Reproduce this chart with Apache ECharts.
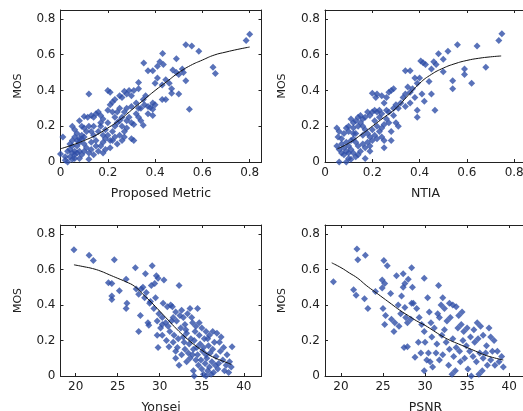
<!DOCTYPE html>
<html>
<head>
<meta charset="utf-8">
<script src="https://cdn.jsdelivr.net/npm/echarts@6/dist/echarts.min.js"></script>
<style>
  html, body { margin: 0; padding: 0; background: #fff; }
  #main { width: 523px; height: 411px; }
</style>
</head>
<body>
<div id="main"></div>
<script>
// scatter points [x, MOS]
var proposedPts = [
  [0.80,0.715],[0.785,0.68],[0.53,0.655],[0.555,0.648],[0.585,0.62],[0.432,0.607],[0.645,0.53],[0.655,0.495],[0.545,0.295],[0.352,0.553],[0.49,0.578],
  [0.42,0.56],[0.435,0.545],[0.41,0.535],[0.39,0.51],[0.37,0.51],[0.475,0.515],[0.49,0.5],[0.515,0.52],[0.52,0.5],[0.5,0.49],[0.53,0.455],[0.5,0.38],[0.47,0.385],
  [0.41,0.47],[0.40,0.44],[0.43,0.43],[0.445,0.46],[0.46,0.44],[0.47,0.41],[0.43,0.35],[0.445,0.35],[0.39,0.33],[0.37,0.31],[0.355,0.32],[0.38,0.305],[0.39,0.295],[0.40,0.32],[0.37,0.27],[0.39,0.26],[0.34,0.30],[0.33,0.30],[0.35,0.205],
  [0.33,0.445],[0.33,0.41],[0.31,0.40],[0.29,0.40],[0.27,0.395],[0.28,0.38],[0.30,0.37],[0.26,0.36],[0.25,0.37],[0.23,0.35],[0.20,0.40],[0.21,0.39],[0.12,0.38],
  [0.30,0.31],[0.28,0.30],[0.27,0.28],[0.25,0.30],[0.24,0.28],[0.22,0.28],[0.20,0.29],[0.21,0.32],[0.22,0.335],[0.32,0.33],[0.35,0.35],[0.36,0.37],
  [0.30,0.22],[0.31,0.21],[0.30,0.13],[0.31,0.12],[0.27,0.14],[0.26,0.20],[0.28,0.23],[0.25,0.23],[0.23,0.25],
  [0.17,0.26],[0.16,0.28],[0.15,0.27],[0.14,0.25],[0.13,0.26],[0.115,0.25],[0.10,0.255],[0.09,0.20],[0.08,0.23],[0.06,0.18],[0.05,0.20],[0.07,0.16],
  [0.01,0.14],[0.0,0.045],[0.02,0.01],[0.03,0.0],[0.04,0.03],[0.05,0.05],[0.04,0.07],[0.05,0.09],[0.06,0.06],[0.06,0.04],[0.07,0.05],[0.07,0.09],[0.08,0.11],[0.08,0.06],
  [0.09,0.13],[0.10,0.14],[0.10,0.10],[0.11,0.08],[0.12,0.05],[0.12,0.015],[0.13,0.11],[0.13,0.17],[0.14,0.15],[0.15,0.12],[0.15,0.09],[0.16,0.06],[0.16,0.17],[0.17,0.20],
  [0.18,0.15],[0.18,0.11],[0.19,0.13],[0.19,0.18],[0.20,0.22],[0.20,0.15],[0.21,0.08],[0.22,0.12],[0.22,0.17],[0.23,0.14],[0.23,0.20],[0.24,0.10],[0.25,0.15],[0.26,0.25],
  [0.27,0.17],[0.18,0.24],[0.17,0.22],[0.14,0.20],[0.12,0.20],[0.11,0.17],[0.10,0.19],[0.09,0.15],[0.08,0.13],[0.07,0.12],[0.06,0.14],[0.05,0.12],[0.04,0.10],[0.03,0.06],
  [0.02,0.03],[0.05,0.015],[0.06,0.02],[0.08,0.02],[0.09,0.04],[0.10,0.06],[0.13,0.07],[0.14,0.04],[0.17,0.09],[0.18,0.05],[0.19,0.07],[0.21,0.12],[0.24,0.22],[0.26,0.12],
  [0.28,0.19],[0.29,0.25],[0.32,0.27],[0.33,0.25],[0.34,0.23]
];
var ntiaPts = [
  [0.748,0.717],[0.735,0.68],[0.56,0.656],[0.643,0.648],[0.52,0.62],[0.48,0.605],[0.50,0.575],[0.46,0.56],[0.405,0.565],[0.415,0.555],[0.425,0.545],[0.45,0.52],[0.47,0.545],
  [0.59,0.52],[0.59,0.49],[0.68,0.53],[0.62,0.44],[0.54,0.455],[0.54,0.41],[0.50,0.505],[0.465,0.29],[0.45,0.38],[0.42,0.34],[0.39,0.29],[0.39,0.25],
  [0.34,0.51],[0.36,0.51],[0.38,0.47],[0.39,0.44],[0.40,0.47],[0.44,0.45],[0.35,0.42],[0.36,0.39],[0.37,0.41],[0.34,0.38],[0.33,0.36],[0.31,0.30],[0.41,0.38],[0.38,0.36],
  [0.36,0.33],[0.34,0.31],[0.32,0.33],[0.30,0.32],[0.29,0.41],[0.28,0.40],[0.27,0.39],[0.26,0.36],[0.24,0.37],[0.22,0.38],[0.20,0.385],[0.215,0.36],[0.29,0.30],[0.27,0.28],
  [0.25,0.33],[0.26,0.29],[0.29,0.26],[0.30,0.22],[0.31,0.20],[0.28,0.17],[0.25,0.08],
  [0.05,0.19],[0.06,0.17],[0.055,0.14],[0.05,0.09],[0.06,0.07],[0.07,0.05],[0.08,0.04],[0.06,0.0],[0.09,0.0],[0.07,0.10],[0.08,0.08],[0.09,0.06],[0.10,0.05],[0.10,0.09],
  [0.11,0.07],[0.12,0.05],[0.11,0.12],[0.12,0.13],[0.13,0.11],[0.14,0.09],[0.14,0.04],[0.15,0.06],[0.16,0.10],[0.17,0.08],[0.09,0.19],[0.10,0.17],[0.12,0.19],[0.13,0.23],
  [0.14,0.25],[0.15,0.22],[0.16,0.20],[0.17,0.18],[0.18,0.16],[0.19,0.14],[0.20,0.12],[0.21,0.15],[0.22,0.13],[0.20,0.18],[0.22,0.20],[0.23,0.17],[0.24,0.14],[0.25,0.12],
  [0.23,0.25],[0.22,0.28],[0.21,0.29],[0.20,0.28],[0.19,0.26],[0.18,0.28],[0.17,0.25],[0.16,0.24],[0.15,0.26],[0.14,0.20],[0.13,0.16],[0.12,0.22],[0.11,0.24],[0.10,0.20],
  [0.08,0.16],[0.07,0.13],[0.09,0.11],[0.16,0.15],[0.18,0.11],[0.19,0.09],[0.21,0.23],[0.23,0.29],[0.24,0.27],[0.26,0.24],[0.27,0.22],[0.28,0.12],[0.19,0.06],[0.17,0.02],
  [0.13,0.03],[0.10,0.02],[0.24,0.19],[0.25,0.21],[0.12,0.16],[0.11,0.015]
];
var yonseiPts = [
  [19.8,0.71],[21.6,0.68],[22.1,0.65],[24.6,0.655],[27.1,0.61],[29.1,0.62],[28.3,0.575],[29.6,0.565],[29.8,0.55],[30.5,0.54],[26.0,0.545],[23.9,0.525],[24.3,0.52],
  [32.3,0.51],[29.0,0.51],[29.4,0.52],[27.2,0.49],[27.8,0.49],[28.0,0.50],[25.2,0.48],[24.3,0.45],[24.3,0.43],[26.1,0.41],[26.0,0.38],[27.5,0.25],[27.7,0.34],[28.6,0.30],
  [28.7,0.285],[29.7,0.31],[29.7,0.23],[29.8,0.16],[30.4,0.41],[29.5,0.44],[30.9,0.39],[31.3,0.40],[31.5,0.39],[31.1,0.165],[31.9,0.10],[32.3,0.06],[33.6,0.38],[34.5,0.38],
  [34.1,0.0],[35.5,0.0],[38.6,0.165],[38.5,0.05],
  [27.5,0.46],[28.2,0.44],[28.8,0.41],[29.3,0.38],[29.9,0.35],[30.3,0.33],[30.7,0.30],[30.3,0.29],[31.0,0.28],[31.6,0.33],[31.9,0.36],[32.0,0.31],[32.4,0.34],[32.8,0.33],
  [33.0,0.29],[33.3,0.35],[33.9,0.30],[34.3,0.28],[34.7,0.30],[35.0,0.27],[35.5,0.25],[35.9,0.23],[36.3,0.25],[36.8,0.24],[37.3,0.22],[37.6,0.16],[38.0,0.12],[38.3,0.08],
  [37.9,0.06],[31.2,0.25],[31.7,0.23],[32.2,0.21],[32.5,0.27],[32.9,0.19],[33.2,0.24],[33.5,0.18],[33.7,0.21],[34.0,0.15],[34.2,0.25],[34.5,0.12],[34.8,0.18],[35.1,0.14],
  [35.3,0.21],[35.6,0.10],[35.8,0.17],[36.0,0.13],[36.2,0.08],[36.5,0.19],[36.7,0.11],[37.0,0.07],[37.2,0.14],[37.5,0.09],[36.9,0.04],[36.4,0.02],[35.9,0.05],[35.4,0.07],
  [35.0,0.04],[34.6,0.06],[34.3,0.09],[33.9,0.12],[33.4,0.13],[33.0,0.15],[32.6,0.12],[32.1,0.16],[31.6,0.19],[30.8,0.20],[30.3,0.23],[31.9,0.14],[33.2,0.08],[34.0,0.03],
  [35.2,0.01],[35.7,0.03],[36.1,0.01],[36.6,0.06],[37.7,0.03],[38.2,0.02],[34.9,0.09],[35.5,0.12],[34.4,0.16],[33.6,0.10],[32.8,0.22],[33.1,0.26],[34.1,0.20],[35.2,0.16],
  [36.3,0.15],[37.1,0.19],[35.7,0.21],[34.7,0.23],[33.8,0.33],[32.6,0.37],[31.4,0.31],[30.1,0.27],[28.9,0.42],[28.4,0.47]
];
var psnrPts = [
  [19.1,0.53],[21.9,0.715],[22.0,0.655],[22.9,0.68],[21.5,0.485],[21.8,0.455],[22.8,0.435],[23.2,0.38],[24.1,0.475],[24.9,0.54],[24.9,0.495],[25.1,0.65],[25.5,0.62],
  [25.2,0.52],[25.9,0.465],[25.0,0.38],[25.3,0.34],[25.2,0.29],[26.0,0.32],[26.4,0.30],[26.3,0.25],[26.6,0.565],[27.4,0.575],[27.4,0.50],[27.6,0.52],[27.2,0.45],[26.8,0.40],
  [27.1,0.35],[27.6,0.385],[27.7,0.33],[28.4,0.61],[28.0,0.545],[28.5,0.50],[28.4,0.41],[28.6,0.41],[27.5,0.16],[27.9,0.165],[28.8,0.105],[29.9,0.55],[30.3,0.44],[31.6,0.51],
  [30.5,0.36],[29.0,0.38],[29.3,0.33],[29.6,0.29],[29.9,0.25],[29.2,0.19],[29.5,0.13],[29.9,0.03],[30.2,0.09],[30.6,0.08],[30.8,0.22],[31.1,0.27],[31.4,0.18],[31.7,0.33],
  [31.9,0.40],[32.1,0.44],[32.3,0.38],[32.6,0.31],[32.9,0.41],[33.3,0.40],[33.7,0.39],[34.0,0.34],[34.3,0.29],[34.6,0.25],[35.0,0.27],[35.4,0.22],[35.8,0.26],[36.2,0.30],
  [36.6,0.28],[36.9,0.23],[37.3,0.17],[37.8,0.22],[38.2,0.20],[38.6,0.14],[39.1,0.11],[39.3,0.05],[38.8,0.08],[38.3,0.06],[37.8,0.09],[37.4,0.06],[36.9,0.10],[36.5,0.13],
  [36.1,0.08],[35.7,0.11],[35.3,0.14],[34.9,0.17],[34.5,0.20],[34.1,0.14],[33.7,0.16],[33.3,0.21],[32.9,0.15],[32.5,0.19],[32.1,0.12],[31.7,0.09],[31.3,0.13],[30.9,0.05],
  [32.8,0.06],[33.2,0.01],[33.6,0.03],[34.2,0.08],[35.1,0.04],[35.5,0.0],[36.4,0.01],[36.8,0.03],[37.2,0.13],[35.9,0.19],[34.7,0.10],[33.4,0.11],[32.3,0.26],[31.5,0.35],
  [30.7,0.30],[30.0,0.19],[28.3,0.32],[27.9,0.30],[26.9,0.28],[33.0,0.33],[34.4,0.36],[36.3,0.21],[37.6,0.27],[38.0,0.14],[33.9,0.27],[32.0,0.23],[30.4,0.13]
];

// fitted curves (black line in each panel)
var proposedFit = [[0,0.074],[0.05,0.095],[0.1,0.12],[0.15,0.15],[0.2,0.19],[0.25,0.235],[0.3,0.29],[0.35,0.345],[0.4,0.40],[0.45,0.45],[0.5,0.50],[0.55,0.54],[0.6,0.57],[0.65,0.598],[0.7,0.615],[0.75,0.63],[0.8,0.643]];
var ntiaFit = [[0.053,0.074],[0.1,0.105],[0.15,0.15],[0.2,0.2],[0.25,0.25],[0.3,0.30],[0.35,0.37],[0.4,0.44],[0.45,0.49],[0.5,0.525],[0.55,0.55],[0.6,0.568],[0.65,0.58],[0.7,0.588],[0.745,0.593]];
var yonseiFit = [[19.8,0.626],[21,0.615],[22,0.605],[23,0.59],[24,0.57],[25,0.55],[26,0.53],[27,0.505],[28,0.46],[29,0.415],[30,0.365],[31,0.315],[32,0.265],[33,0.22],[34,0.18],[35,0.145],[36,0.115],[37,0.093],[38,0.075],[38.5,0.065]];
var psnrFit = [[18.9,0.637],[20,0.61],[21,0.58],[22,0.55],[23,0.51],[24,0.475],[25,0.44],[26,0.405],[27,0.37],[28,0.34],[29,0.31],[30,0.285],[31,0.255],[32,0.225],[33,0.2],[34,0.18],[35,0.16],[36,0.14],[37,0.12],[38,0.105],[39.3,0.09]];

var xNames = ['Proposed Metric', 'NTIA', 'Yonsei', 'PSNR'];
var allPts = [proposedPts, ntiaPts, yonseiPts, psnrPts];
var allFit = [proposedFit, ntiaFit, yonseiFit, psnrFit];
// [min, max, interval]; bottom panels leave interval to echarts (min is not a multiple of 5)
var xRanges = [[0, 0.85, 0.2], [0, 0.85, 0.2], [18.2, 42.1, null], [18.1, 42, null]];
var xSteps = [0.2, 0.2, 5, 5];
var yRange = [0, 0.85, 0.2];

var grids = [
  { left: 60.5, top: 10, width: 201, height: 152 },
  { left: 325, top: 10, width: 201, height: 152 },
  { left: 60.5, top: 225, width: 201, height: 151 },
  { left: 325, top: 225, width: 201, height: 151 }
];

var txt = '#222';
var font = 'DejaVu Sans';

// only label the "nice" ticks, not the extent ends
function tickFmt(step) {
  return function (v) {
    var k = v / step;
    return Math.abs(k - Math.round(k)) < 1e-6 ? String(+v.toFixed(2)) : '';
  };
}

var xAxis = [], yAxis = [], series = [];
grids.forEach(function (g, i) {
  g.outerBoundsMode = 'none';
  var xr = xRanges[i];
  var line = { show: true, onZero: false, lineStyle: { color: '#222', width: 1 } };
  var tick = { show: true, inside: true, length: 3, lineStyle: { color: '#222' } };
  var xb = {
    type: 'value', gridIndex: i, position: 'bottom', min: xr[0], max: xr[1],
    splitLine: { show: false }, axisLine: line, axisTick: tick,
    axisLabel: { color: txt, fontFamily: font, fontSize: 12, margin: 5, formatter: tickFmt(xSteps[i]) },
    name: xNames[i], nameLocation: 'middle', nameGap: 25,
    nameTextStyle: { color: txt, fontFamily: font, fontSize: 12.5 }
  };
  var xt = {
    type: 'value', gridIndex: i, position: 'top', min: xr[0], max: xr[1],
    splitLine: { show: false }, axisLine: line, axisTick: tick, axisLabel: { show: false }
  };
  if (xr[2]) { xb.interval = xr[2]; xt.interval = xr[2]; }
  xAxis.push(xb, xt);
  yAxis.push({
    type: 'value', gridIndex: i, position: 'left', min: yRange[0], max: yRange[1], interval: yRange[2],
    splitLine: { show: false }, axisLine: line, axisTick: tick,
    axisLabel: { color: txt, fontFamily: font, fontSize: 12, margin: 5, formatter: tickFmt(yRange[2]) },
    name: 'MOS', nameLocation: 'middle', nameGap: 37,
    nameTextStyle: { color: txt, fontFamily: font, fontSize: 11 }
  });
  yAxis.push({
    type: 'value', gridIndex: i, position: 'right', min: yRange[0], max: yRange[1], interval: yRange[2],
    splitLine: { show: false }, axisLine: line, axisTick: tick, axisLabel: { show: false }
  });

  series.push({
    type: 'scatter', xAxisIndex: i * 2, yAxisIndex: i * 2, data: allPts[i],
    symbol: 'diamond', symbolSize: 7, itemStyle: { color: '#2f4fa8' }, silent: true
  });
  series.push({
    type: 'line', xAxisIndex: i * 2, yAxisIndex: i * 2, data: allFit[i], smooth: true,
    showSymbol: false, lineStyle: { color: '#111', width: 1 }, silent: true, z: 3
  });
});

var myChart = echarts.init(document.getElementById('main'));
myChart.setOption({
  animation: false,
  backgroundColor: '#fff',
  grid: grids,
  xAxis: xAxis,
  yAxis: yAxis,
  series: series
});
</script>
</body>
</html>
